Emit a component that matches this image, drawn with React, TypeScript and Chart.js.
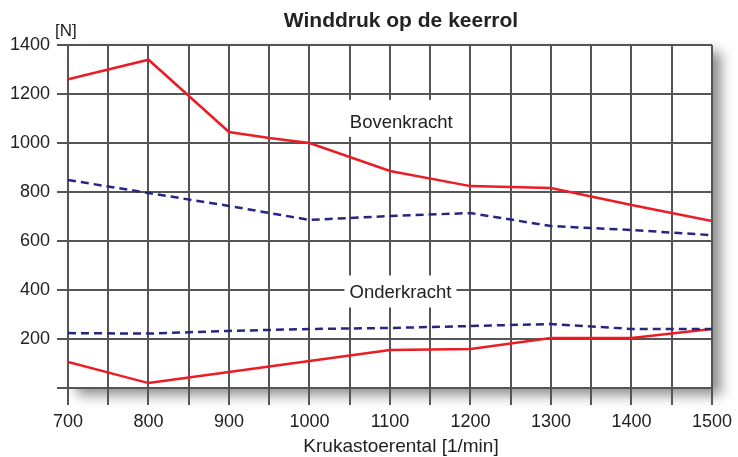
import React, { useEffect, useRef } from "react";
import { Chart, registerables } from "chart.js";

Chart.register(...registerables);

const rpm = [700, 800, 900, 950, 1000, 1100, 1200, 1300, 1400, 1500];
const bovenRed = [1260, 1340, 1045, 1020, 1000, 886, 824, 816, 747, 682];
const rpmB = [700, 800, 900, 1000, 1100, 1200, 1300, 1400, 1500];
const bovenBlue = [849, 796, 743, 686, 702, 714, 661, 645, 624];
const onderBlue = [224, 222, 233, 241, 245, 253, 261, 241, 241];
const onderRed = [106, 20, 65, 110, 155, 159, 204, 204, 241];

const titleText = "Winddruk op de keerrol";
const yUnit = "[N]";
const xTitle = "Krukastoerental [1/min]";
const labelBoven = "Bovenkracht";
const labelOnder = "Onderkracht";

const FONT = "'Liberation Sans', Arial, Helvetica, sans-serif";
const GRID = "#555555";
const RED = "#ec1c24";
const BLUE = "#262680";

const pts = (xs: number[], ys: number[]) => xs.map((x, i) => ({ x, y: ys[i] }));

const decor = {
  id: "decor",
  beforeDraw(chart: any) {
    const { ctx, chartArea: a } = chart;
    ctx.save();
    ctx.shadowColor = "rgba(0,0,0,0.45)";
    ctx.shadowBlur = 12;
    ctx.shadowOffsetX = 9;
    ctx.shadowOffsetY = 7;
    ctx.fillStyle = "#ffffff";
    ctx.fillRect(a.left, a.top, a.right - a.left, a.bottom - a.top);
    ctx.restore();
  },
  afterDraw(chart: any) {
    const { ctx } = chart;
    const xs = chart.scales.x;
    const ys = chart.scales.y;
    ctx.save();
    const box = (text: string, xv: number, yv: number, x0: number, x1: number, up: number, down: number) => {
      const cx = xs.getPixelForValue(xv);
      const cy = ys.getPixelForValue(yv);
      ctx.fillStyle = "#ffffff";
      ctx.fillRect(cx - x0, cy - up, x0 + x1, up + down);
      ctx.fillStyle = "#222222";
      ctx.font = `18.5px ${FONT}`;
      ctx.textAlign = "center";
      ctx.textBaseline = "middle";
      ctx.fillText(text, cx, cy + 1);
    };
    box(labelBoven, 1114, 1086, 55, 53, 22, 15);
    box(labelOnder, 1113, 394, 56, 56, 16, 16);

    ctx.fillStyle = "#222222";
    ctx.textAlign = "center";
    ctx.textBaseline = "middle";
    ctx.font = `bold 21px ${FONT}`;
    ctx.fillText(titleText, 401, 21);
    ctx.font = `19px ${FONT}`;
    ctx.fillText(xTitle, 401, 447);
    ctx.textAlign = "left";
    ctx.font = `17px ${FONT}`;
    ctx.fillText(yUnit, 55, 31);
    ctx.restore();
  },
};

export default function App() {
  const ref = useRef<HTMLCanvasElement | null>(null);
  useEffect(() => {
    if (!ref.current) return;
    const chart = new Chart(ref.current, {
      type: "line",
      data: {
        datasets: [
          {
            data: pts(rpm, bovenRed),
            borderColor: RED,
            borderWidth: 2.5,
            pointRadius: 0,
            fill: false,
          },
          {
            data: pts(rpmB, bovenBlue),
            borderColor: BLUE,
            borderWidth: 2.5,
            borderDash: [8, 5],
            pointRadius: 0,
            fill: false,
          },
          {
            data: pts(rpmB, onderBlue),
            borderColor: BLUE,
            borderWidth: 2.5,
            borderDash: [8, 5],
            pointRadius: 0,
            fill: false,
          },
          {
            data: pts(rpmB, onderRed),
            borderColor: RED,
            borderWidth: 2.5,
            pointRadius: 0,
            fill: false,
          },
        ],
      },
      options: {
        animation: false,
        responsive: false,
        layout: { padding: { top: 45, right: 25, left: 0, bottom: 0 } },
        plugins: {
          legend: { display: false },
          title: { display: false },
          tooltip: { enabled: false },
        },
        scales: {
          x: {
            type: "linear",
            min: 700,
            max: 1500,
            afterFit: (s: any) => {
              s.height = 69;
            },
            grid: { color: GRID, lineWidth: 2, tickLength: 17, drawTicks: true },
            border: { display: false },
            ticks: {
              stepSize: 50,
              autoSkip: false,
              maxRotation: 0,
              padding: 6,
              color: "#222222",
              font: { family: FONT, size: 18 },
              callback: (v: any) => (Number(v) % 100 === 0 ? String(v) : ""),
            },
          },
          y: {
            type: "linear",
            min: 0,
            max: 1400,
            afterFit: (s: any) => {
              s.width = 68;
            },
            grid: { color: GRID, lineWidth: 2, tickLength: 11, drawTicks: true },
            border: { display: false },
            ticks: {
              stepSize: 200,
              padding: 7,
              color: "#222222",
              font: { family: FONT, size: 18 },
              callback: (v: any) => (Number(v) === 0 ? "" : String(v)),
            },
          },
        },
      },
      plugins: [decor],
    });
    return () => chart.destroy();
  }, []);
  return (
    <div style={{ position: "absolute", left: 0, top: 0, width: 738, height: 457, background: "#fff" }}>
      <canvas ref={ref} width={738} height={457} style={{ display: "block" }} />
    </div>
  );
}
